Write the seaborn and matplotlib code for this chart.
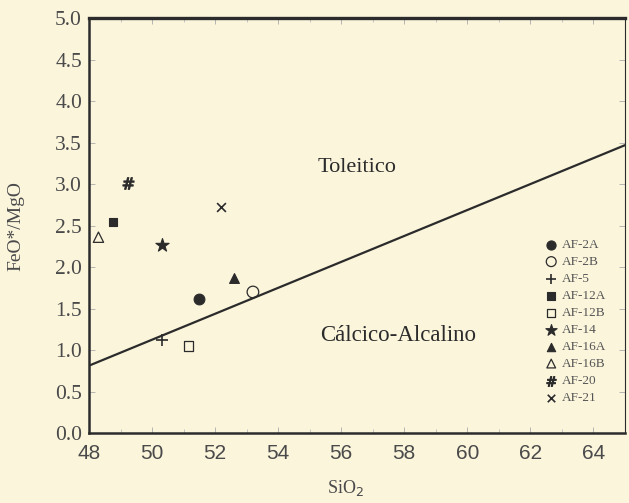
import matplotlib
matplotlib.use("Agg")
import matplotlib.pyplot as plt
import seaborn as sns
import numpy as np
import pandas as pd
from matplotlib.ticker import MultipleLocator

# ---- data ----
samples = ["AF-2A", "AF-2B", "AF-5", "AF-12A", "AF-12B", "AF-14",
           "AF-16A", "AF-16B", "AF-20", "AF-21"]
sio2 = [51.5, 53.2, 50.3, 48.75, 51.15, 50.3, 52.6, 48.3, 49.25, 52.2]
feo_mgo = [1.61, 1.70, 1.12, 2.54, 1.05, 2.27, 1.87, 2.36, 3.01, 2.73]
# boundary line (Miyashiro): SiO2 = 6.4*FeO/MgO + 42.8
line_sio2 = [48.0, 65.0]
line_ratio = [(s - 42.8) / 6.4 for s in line_sio2]
x_ticks = [48, 50, 52, 54, 56, 58, 60, 62, 64]
y_ticks = [0.0, 0.5, 1.0, 1.5, 2.0, 2.5, 3.0, 3.5, 4.0, 4.5, 5.0]

df = pd.DataFrame({"sample": samples, "SiO2": sio2, "ratio": feo_mgo})

# style per sample: (marker, filled, size)
styles = {
    "AF-2A": ("o", True, 60),
    "AF-2B": ("o", False, 70),
    "AF-5": ("+", None, 70),
    "AF-12A": ("s", True, 40),
    "AF-12B": ("s", False, 45),
    "AF-14": ("*", True, 100),
    "AF-16A": ("^", True, 50),
    "AF-16B": ("^", False, 55),
    "AF-20": ("$\\#$", True, 70),
    "AF-21": ("x", None, 40),
}

bg = "#fbf5dc"
ink = "#2b2b2b"
gray = "#4a4a4a"

sns.set_theme(style="ticks")
plt.rcParams["font.family"] = ["Liberation Serif", "DejaVu Serif"]

fig = plt.figure(figsize=(6.29, 5.03), dpi=100, facecolor=bg)
ax = fig.add_axes([0.1415, 0.139, 0.852, 0.825])
ax.set_facecolor(bg)

sns.lineplot(x=line_sio2, y=line_ratio, ax=ax, color=ink, lw=1.6)

for s in samples:
    m, filled, size = styles[s]
    sub = df[df["sample"] == s]
    kw = dict(marker=m, s=size, ax=ax, label=s, legend=False)
    if filled is None:
        sns.scatterplot(data=sub, x="SiO2", y="ratio", color=ink, linewidth=1.2, **kw)
    elif filled:
        sns.scatterplot(data=sub, x="SiO2", y="ratio", color=ink, edgecolor=ink, linewidth=0.8, **kw)
    else:
        sns.scatterplot(data=sub, x="SiO2", y="ratio", facecolor="none", edgecolor=ink, linewidth=0.9, **kw)

ax.set_xlim(48, 65)
ax.set_ylim(0, 5)
ax.set_xticks(x_ticks)
ax.set_yticks(y_ticks)
ax.set_xticklabels([str(t) for t in x_ticks], family=["Liberation Sans"], fontsize=15, color=gray)
ax.set_yticklabels([f"{t:.1f}" for t in y_ticks], family=["Liberation Serif"], fontsize=15.5, color=gray)
ax.xaxis.set_minor_locator(MultipleLocator(1))
ax.tick_params(axis="x", which="major", direction="in", length=4, width=0.6, color="#aaaaaa", pad=8)
ax.tick_params(axis="y", which="major", direction="in", length=4, width=0.6, color="#aaaaaa", pad=5, right=True)
ax.tick_params(axis="x", which="minor", direction="in", length=3, width=0.6, color="#bbbbbb")
ax.tick_params(axis="x", which="both", top=True)
for sp in ax.spines.values():
    sp.set_color(ink)
    sp.set_linewidth(1.8)
ax.spines["top"].set_linewidth(2.4)
ax.spines["right"].set_linewidth(0.8)

ax.set_xlabel("SiO$_2$", fontsize=13, color=gray)
ax.xaxis.set_label_coords(0.478, -0.108)
ax.set_ylabel("FeO*/MgO", fontsize=14, color=gray)
ax.yaxis.set_label_coords(-0.12, 0.5)

ax.text(56.5, 3.2, "Toleitico", fontsize=16, color=ink, ha="center", va="center")
ax.text(57.8, 1.18, "Cálcico-Alcalino", fontsize=16.5, color=ink, ha="center", va="center")

handles, labels = ax.get_legend_handles_labels()
leg = ax.legend(handles, labels, loc="upper right", bbox_to_anchor=(0.965, 0.468), frameon=False,
                fontsize=9.5, labelspacing=0.36, handletextpad=0.3, borderaxespad=0.0,
                borderpad=0.0, handlelength=1.0, markerscale=0.85)
for t in leg.get_texts():
    t.set_color("#555555")

fig.savefig("out.png", dpi=100, facecolor=bg)
